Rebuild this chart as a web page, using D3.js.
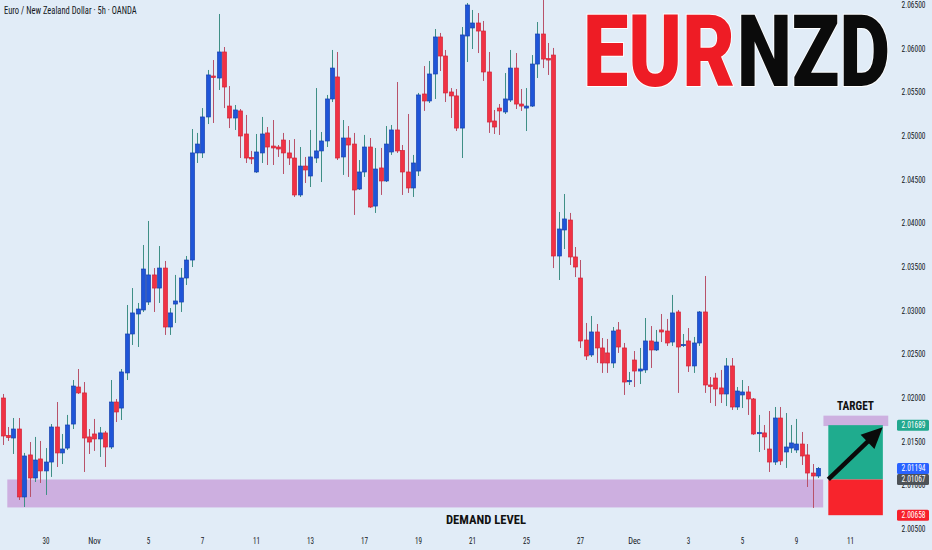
<!DOCTYPE html>
<html><head><meta charset="utf-8">
<script src="https://cdn.jsdelivr.net/npm/d3@7"></script>
<style>html,body{margin:0;padding:0;background:#e1ecf7;} svg{display:block}</style>
</head><body><svg id="c" width="932" height="550"></svg>
<script>
// ---------- DATA ----------
const openP = [2.02000,2.01571,2.01542,2.01645,2.00867,2.01348,2.01084,2.01302,2.01165,2.01267,
2.01668,2.01371,2.01427,2.01702,2.02126,2.02058,2.01554,2.01588,2.01531,2.01600,
2.01439,2.01954,2.01885,2.02287,2.02733,2.02962,2.03008,2.03099,2.03409,2.03259,
2.03488,2.02813,2.03076,2.03099,2.03374,2.03580,2.04806,2.04806,2.05218,2.05687,
2.05664,2.05962,2.05343,2.05206,2.05287,2.05023,2.04754,2.04588,2.04806,2.05035,
2.04885,2.04874,2.04954,2.04806,2.04748,2.04325,2.04656,2.04542,2.04748,2.04829,
2.04943,2.05424,2.05676,2.04760,2.04977,2.04908,2.04393,2.04588,2.04874,2.04198,
2.04634,2.04485,2.04817,2.05069,2.04834,2.04588,2.04405,2.04599,2.05481,2.05401,
2.05710,2.06134,2.05916,2.05504,2.05459,2.05091,2.06145,2.06237,2.06294,2.06202,
2.05733,2.05172,2.05320,2.05275,2.05412,2.05778,2.05366,2.05320,2.05343,2.05824,
2.06168,2.05887,2.05927,2.03626,2.03924,2.04038,2.03615,2.03374,2.02664,2.02493,
2.02756,2.02573,2.02516,2.02401,2.02779,2.02573,2.02189,2.02435,2.02309,2.02321,
2.02653,2.02550,2.02779,2.02767,2.02641,2.02985,2.02601,2.02653,2.02367,2.02630,
2.02985,2.02149,2.02229,2.02115,2.02046,2.02367,2.01897,2.02035,2.02069,2.01989,
2.01594,2.01600,2.01416,2.01267,2.01771,2.01382,2.01427,2.01405,2.01473,2.01348,
2.01141,2.01107];
const highP = [2.02046,2.01668,2.01771,2.01771,2.01371,2.01496,2.01554,2.01508,2.01427,2.01702,
2.01954,2.01588,2.01806,2.02206,2.02332,2.02183,2.01645,2.01760,2.01668,2.01623,
2.02206,2.01988,2.02332,2.03065,2.03259,2.03088,2.03752,2.04027,2.03488,2.03740,
2.03569,2.03030,2.03409,2.03488,2.03626,2.05080,2.05035,2.05320,2.05756,2.05870,
2.06397,2.06019,2.05572,2.05355,2.05309,2.05241,2.04829,2.05023,2.05218,2.05103,
2.05183,2.04897,2.05035,2.04954,2.04965,2.04874,2.04760,2.05069,2.05549,2.05046,
2.05470,2.05985,2.05962,2.05183,2.05114,2.05035,2.04725,2.05012,2.04977,2.04863,
2.04863,2.05114,2.05126,2.05618,2.04897,2.05252,2.04783,2.05493,2.05801,2.05859,
2.06225,2.06180,2.05985,2.05549,2.05538,2.06248,2.06523,2.06443,2.06408,2.06317,
2.05962,2.05298,2.05366,2.05721,2.05985,2.05950,2.05538,2.05549,2.05927,2.06305,
2.06557,2.06065,2.06008,2.04130,2.04336,2.04119,2.03729,2.03580,2.02859,2.02939,
2.02847,2.02687,2.02676,2.02813,2.02870,2.02630,2.02298,2.02538,2.02573,2.02916,
2.02824,2.02779,2.02962,2.02905,2.03180,2.03008,2.02733,2.02801,2.02699,2.02996,
2.03397,2.02240,2.02287,2.02321,2.02458,2.02458,2.02126,2.02206,2.02137,2.02000,
2.01806,2.01691,2.01851,2.01897,2.01897,2.01828,2.01691,2.01760,2.01611,2.01473,
2.01244,2.01210];
const lowP = [2.01462,2.01508,2.01359,2.00832,2.00752,2.00867,2.01038,2.01027,2.00890,2.01096,
2.01210,2.01244,2.01405,2.01645,2.02046,2.01153,2.01359,2.01394,2.01325,2.01210,
2.01416,2.01725,2.01748,2.02206,2.02607,2.02584,2.02985,2.03065,2.02985,2.03088,
2.02722,2.02722,2.02859,2.02985,2.03294,2.03500,2.04691,2.04748,2.05137,2.05149,
2.05527,2.05320,2.05091,2.05069,2.04748,2.04691,2.04679,2.04577,2.04691,2.04668,
2.04668,2.04760,2.04565,2.04668,2.04302,2.04302,2.04462,2.04416,2.04691,2.04473,
2.04874,2.05389,2.04725,2.04554,2.04531,2.04096,2.04382,2.04531,2.04176,2.04119,
2.04325,2.04473,2.04783,2.04806,2.04325,2.04348,2.04302,2.04542,2.05287,2.05378,
2.05424,2.05744,2.05389,2.05206,2.05057,2.04748,2.05847,2.05996,2.05950,2.05630,
2.05035,2.05023,2.05012,2.05252,2.05389,2.05309,2.05287,2.05057,2.05332,2.05664,
2.05778,2.05699,2.03488,2.03351,2.03706,2.03523,2.03385,2.02573,2.02435,2.02470,
2.02401,2.02287,2.02287,2.02344,2.02516,2.02035,2.02149,2.02126,2.02160,2.02287,
2.02344,2.02538,2.02641,2.02596,2.02596,2.02058,2.02584,2.02298,2.02287,2.02596,
2.02058,2.01943,2.01908,2.01943,2.01908,2.01863,2.01863,2.01885,2.01806,2.01577,
2.01382,2.01405,2.01153,2.01233,2.01233,2.01199,2.01371,2.01371,2.01233,2.00981,
2.00741,2.01084];
const closeP = [2.01565,2.01548,2.01645,2.00867,2.01336,2.01084,2.01290,2.01165,2.01267,2.01668,
2.01371,2.01416,2.01691,2.02137,2.02058,2.01542,2.01496,2.01531,2.01600,2.01439,
2.01954,2.01840,2.02298,2.02733,2.02974,2.03019,2.03477,2.03409,2.03259,2.03488,
2.02813,2.02974,2.03111,2.03374,2.03580,2.04806,2.04908,2.05218,2.05699,2.05670,
2.05962,2.05561,2.05206,2.05298,2.05000,2.04748,2.04737,2.04817,2.05023,2.04874,
2.04863,2.04851,2.04806,2.04748,2.04325,2.04656,2.04611,2.04760,2.04829,2.04943,
2.05424,2.05778,2.04748,2.04977,2.04897,2.04382,2.04588,2.04874,2.04187,2.04622,
2.04485,2.04908,2.05069,2.04829,2.04588,2.04405,2.04691,2.05470,2.05401,2.05710,
2.06134,2.05916,2.05493,2.05459,2.05091,2.06157,2.06500,2.06294,2.06202,2.05733,
2.05160,2.05103,2.05287,2.05424,2.05778,2.05366,2.05343,2.05343,2.05824,2.06168,
2.05881,2.05870,2.03626,2.03935,2.04050,2.03615,2.03500,2.02653,2.02481,2.02756,
2.02573,2.02401,2.02401,2.02767,2.02584,2.02183,2.02200,2.02309,2.02332,2.02653,
2.02550,2.02641,2.02756,2.02630,2.02974,2.02584,2.02613,2.02367,2.02630,2.02985,
2.02149,2.02132,2.02103,2.02046,2.02367,2.01897,2.02080,2.02069,2.01989,2.01588,
2.01605,2.01554,2.01267,2.01771,2.01279,2.01439,2.01485,2.01473,2.01336,2.01141,
2.01107,2.01194];

const timeTickIndex  = [8,17,27,37,47,57,67,77,87,97,107,117,127,137,147,157];
const timeTickLabels = ["30","Nov","5","7","11","13","17","19","21","25","27","Dec","3","5","9","11"];
const priceTicks = [2.065,2.060,2.055,2.050,2.045,2.040,2.035,2.030,2.025,2.020,2.015,2.010,2.005];

const markerValues = [2.01689, 2.01194, 2.01067, 2.00658];
const markerNames  = ["target","last","entry","stop"];

const demandZone = [2.00747, 2.01067];     // price bottom / top
const demandSpan = [0.85, 151.95];         // candle index span
const targetBand = [2.01679, 2.01798];
const targetBandSpan = [152, 164];
const positionSpan = [152.9, 163];
const arrowEnd = [162.97, 2.01664];

// ---------- DRAW ----------
const W = 932, H = 550;
const svg = d3.select("#c");
const x = d3.scaleLinear().domain([-0.5, 165.25]).range([0, 895]);
const y = d3.scaleLinear().domain([2.005, 2.065]).range([529, 5]);
const narrow = "'Liberation Sans Narrow','Roboto Condensed','DejaVu Sans Condensed',Roboto,sans-serif";

// place a text so that its rendered width equals w (scaled horizontally via transform)
function fitText(parent, str, tx, ty, w, attrs, anchor) {
  const t = parent.append("text").attr("x", 0).attr("y", 0).text(str);
  Object.entries(attrs).forEach(([k, v]) => t.attr(k, v));
  const nat = t.node().getComputedTextLength() || w;
  const s = w / nat;
  const left = anchor === "middle" ? tx - w / 2 : tx;
  t.attr("transform", `translate(${left},${ty}) scale(${s},1)`);
  return t;
}

svg.append("rect").attr("width", W).attr("height", H).attr("fill", "#e1ecf7");

// demand zone
svg.append("rect")
  .attr("x", x(demandSpan[0])).attr("width", x(demandSpan[1]) - x(demandSpan[0]))
  .attr("y", y(demandZone[1])).attr("height", y(demandZone[0]) - y(demandZone[1]))
  .attr("fill", "#cdafe0");

// candles
const candles = d3.range(openP.length).map(i => ({i, o: openP[i], h: highP[i], l: lowP[i], c: closeP[i]}));
const upBody = "#1f55d8", upEdge = "#1640ae", dnBody = "#f03244", dnEdge = "#d42236";
const cg = svg.append("g").selectAll("g.c").data(candles).join("g");
cg.append("line")
  .attr("x1", d => Math.round(x(d.i)) + 0.5).attr("x2", d => Math.round(x(d.i)) + 0.5)
  .attr("y1", d => y(d.h)).attr("y2", d => y(d.l))
  .attr("stroke", d => d.c >= d.o ? "#3f8f86" : "#b8526a").attr("stroke-width", 1);
const bw = 4;
cg.append("rect")
  .attr("x", d => Math.round(x(d.i)) + 0.5 - bw / 2)
  .attr("width", bw)
  .attr("y", d => y(Math.max(d.o, d.c)))
  .attr("height", d => Math.max(1.2, Math.abs(y(d.o) - y(d.c))))
  .attr("fill", d => d.c >= d.o ? upBody : dnBody)
  .attr("stroke", d => d.c >= d.o ? upEdge : dnEdge).attr("stroke-width", 0.7);

// target band + position boxes
svg.append("rect")
  .attr("x", x(targetBandSpan[0])).attr("width", x(targetBandSpan[1]) - x(targetBandSpan[0]))
  .attr("y", y(targetBand[1])).attr("height", y(targetBand[0]) - y(targetBand[1]))
  .attr("fill", "#cdb0e0");
svg.append("rect")
  .attr("x", x(positionSpan[0])).attr("width", x(positionSpan[1]) - x(positionSpan[0]))
  .attr("y", y(markerValues[0])).attr("height", y(markerValues[2]) - y(markerValues[0]))
  .attr("fill", "#1fac8e");
svg.append("rect")
  .attr("x", x(positionSpan[0])).attr("width", x(positionSpan[1]) - x(positionSpan[0]))
  .attr("y", y(markerValues[2])).attr("height", y(markerValues[3]) - y(markerValues[2]))
  .attr("fill", "#f7242c");

// arrow
(function () {
  const x0 = x(positionSpan[0]), y0 = y(markerValues[2]);
  const x1 = x(arrowEnd[0]), y1 = y(arrowEnd[1]);
  const ang = Math.atan2(y1 - y0, x1 - x0);
  const hl = 21, hw = 10;
  const bx = x1 - hl * Math.cos(ang), by = y1 - hl * Math.sin(ang);
  svg.append("line").attr("x1", x0).attr("y1", y0).attr("x2", bx + 2 * Math.cos(ang)).attr("y2", by + 2 * Math.sin(ang))
    .attr("stroke", "#0a0a0a").attr("stroke-width", 4.5);
  const px = -Math.sin(ang), py = Math.cos(ang);
  svg.append("path")
    .attr("d", `M${x1},${y1}L${bx + hw * px},${by + hw * py}L${bx - hw * px},${by - hw * py}Z`)
    .attr("fill", "#0a0a0a");
})();

// texts on chart
fitText(svg, "Euro / New Zealand Dollar · 5h · OANDA", 4, 14, 133,
  {"font-family": narrow, "font-size": 10, "fill": "#131722"});
fitText(svg, "DEMAND LEVEL", 446, 523.5, 80,
  {"font-family": narrow, "font-size": 13, "font-weight": 700, "fill": "#111"});
fitText(svg, "TARGET", 837, 410, 37,
  {"font-family": narrow, "font-size": 12.5, "font-weight": 700, "fill": "#111"});

const bigFont = "Roboto,'Liberation Sans','DejaVu Sans',sans-serif";
[["EUR", 583, 152, "#ee1c25"], ["NZD", 737, 153, "#0b0b0b"]].forEach(([t, tx, tw, col]) => {
  fitText(svg, t, tx, 86, tw, {"font-family": bigFont, "font-size": 100, "font-weight": 900,
    "fill": col, "stroke": "#ffffff", "stroke-width": 2, "paint-order": "stroke"});
});

// price axis
svg.append("clipPath").attr("id", "pclip").append("rect").attr("x", 890).attr("y", 0).attr("width", 42).attr("height", 532);
const pa = svg.append("g").attr("clip-path", "url(#pclip)");
priceTicks.forEach(v => {
  fitText(pa, v.toFixed(5), 901.5, y(v) + 3, 24,
    {"font-family": narrow, "font-size": 9, "fill": "#131722"});
});

const markerColors = {target: "#22a88f", last: "#2962ff", entry: "#4d5257", stop: "#f7202b"};
markerValues.forEach((v, k) => {
  const yy = y(v);
  svg.append("rect").attr("x", 897).attr("y", yy - 5.5).attr("width", 32).attr("height", 11).attr("rx", 1.5)
    .attr("fill", markerColors[markerNames[k]]);
  fitText(svg, v.toFixed(5), 901.5, yy + 3, 24,
    {"font-family": narrow, "font-size": 9, "fill": "#ffffff"});
});

// time axis
const ta = svg.append("g");
timeTickIndex.forEach((idx, k) => {
  const lab = timeTickLabels[k];
  const w = /^\d+$/.test(lab) ? lab.length * 3.5 : 12.5;
  fitText(ta, lab, x(idx), 543.5, w, {"font-family": narrow, "font-size": 9, "fill": "#131722"}, "middle");
});
</script></body></html>
